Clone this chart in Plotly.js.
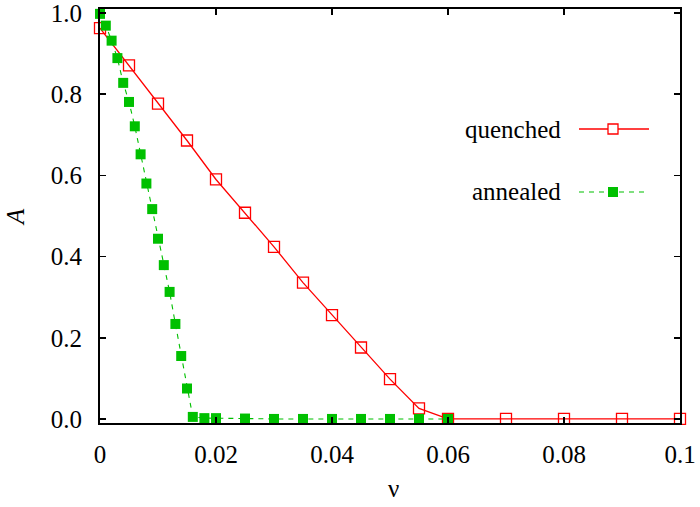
<!DOCTYPE html>
<html>
<head>
<meta charset="utf-8">
<script src="https://cdn.plot.ly/plotly-3.0.1.min.js"></script>
<style>
html,body{margin:0;padding:0;background:#fff;}
#chart .xtick text, #chart .ytick text { font-family: 'Liberation Serif', serif !important; }
</style>
</head>
<body>
<div id="chart" style="width:700px;height:507px;"></div>
<script>
// quenched series
const quenchedNu = [0, 0.005, 0.01, 0.015, 0.02, 0.025, 0.03, 0.035, 0.04, 0.045, 0.05, 0.055, 0.06, 0.07, 0.08, 0.09, 0.1];
const quenchedA  = [0.963, 0.871, 0.777, 0.686, 0.590, 0.508, 0.424, 0.336, 0.256, 0.176, 0.098, 0.026, 0.0, 0.0, 0.0, 0.0, 0.0];
// annealed series
const annealedNu = [0, 0.001, 0.002, 0.003, 0.004, 0.005, 0.006, 0.007, 0.008, 0.009, 0.010, 0.011, 0.012, 0.013, 0.014, 0.015, 0.016, 0.018, 0.020, 0.025, 0.030, 0.035, 0.040, 0.045, 0.050, 0.055, 0.060];
const annealedA  = [0.998, 0.969, 0.932, 0.889, 0.828, 0.781, 0.721, 0.652, 0.580, 0.517, 0.444, 0.379, 0.313, 0.234, 0.155, 0.075, 0.005, 0.002, 0.002, 0.001, 0.0, 0.0, 0.0, 0.0, 0.0, 0.0, 0.0];
// tick labels
const xTickVals = [0, 0.02, 0.04, 0.06, 0.08, 0.1];
const xTickText = ['0', '0.02', '0.04', '0.06', '0.08', '0.1'];
const yTickVals = [0, 0.2, 0.4, 0.6, 0.8, 1.0];
const yTickText = ['0.0', '0.2', '0.4', '0.6', '0.8', '1.0'];
const seriesNames = ['quenched', 'annealed'];

const RED = '#ff0000';
const GREEN = '#00c000';
const FONT = 'Liberation Serif';

const traces = [
  {
    x: quenchedNu, y: quenchedA, name: seriesNames[0], type: 'scatter', mode: 'lines+markers',
    line: {color: RED, width: 1.3},
    marker: {symbol: 'square-open', size: 11, color: RED, line: {color: RED, width: 1.3}},
    cliponaxis: false
  },
  {
    x: annealedNu, y: annealedA, name: seriesNames[1], type: 'scatter', mode: 'lines+markers',
    line: {color: GREEN, width: 1.1, dash: '5px,5px'},
    marker: {symbol: 'square', size: 10, color: GREEN},
    cliponaxis: false
  }
];

// plot area: left 100, right 680, top 9, bottom 423 (px)
const L = 100, R = 680, T = 9, B = 423;
const px2x = p => (p - L) / (R - L);
const px2y = p => (B - p) / (B - T);

const legRows = [129, 192];
const legColors = [RED, GREEN];
const shapes = [];
const annotations = [];
legRows.forEach((py, i) => {
  shapes.push({type: 'line', xref: 'paper', yref: 'paper', x0: px2x(579), x1: px2x(649), y0: px2y(py), y1: px2y(py),
    line: {color: legColors[i], width: i === 0 ? 1.3 : 1.1, dash: i === 0 ? 'solid' : '5px,5px'}});
  shapes.push({type: 'rect', xref: 'paper', yref: 'paper', xsizemode: 'pixel', ysizemode: 'pixel',
    xanchor: px2x(613), yanchor: px2y(py), x0: -5, x1: 5, y0: -5, y1: 5,
    fillcolor: i === 0 ? '#ffffff' : GREEN, line: {color: legColors[i], width: i === 0 ? 1.3 : 0}});
  annotations.push({xref: 'paper', yref: 'paper', x: px2x(563), y: px2y(py), xanchor: 'right', yanchor: 'middle',
    text: seriesNames[i], showarrow: false, font: {family: FONT, size: 25, color: '#000'}});
});
// axis titles
annotations.push({xref: 'paper', yref: 'paper', x: px2x(15), y: px2y(217), xanchor: 'center', yanchor: 'middle',
  text: '<i>A</i>', textangle: -90, showarrow: false, font: {family: FONT, size: 25, color: '#000'}});
annotations.push({xref: 'paper', yref: 'paper', x: px2x(393), y: px2y(488), xanchor: 'center', yanchor: 'middle',
  text: 'ν', showarrow: false, font: {family: FONT, size: 25, color: '#000'}});

const layout = {
  width: 700, height: 507,
  margin: {l: L, r: 700 - R, t: T, b: 507 - B, pad: 0},
  paper_bgcolor: '#fff', plot_bgcolor: '#fff',
  showlegend: false,
  font: {family: FONT, size: 25, color: '#000'},
  xaxis: {
    range: [0, 0.1], tickvals: xTickVals, ticktext: xTickText,
    ticks: 'inside', ticklen: 6, tickwidth: 1.5, tickcolor: '#000',
    showline: true, linecolor: '#000', linewidth: 2, mirror: 'ticks',
    showgrid: false, zeroline: false, ticklabelstandoff: 8, ticklabeloverflow: 'allow',
    tickfont: {family: FONT, size: 25, color: '#000'}
  },
  yaxis: {
    range: [-0.01, 1.01], tickvals: yTickVals, ticktext: yTickText,
    ticks: 'inside', ticklen: 6, tickwidth: 1.5, tickcolor: '#000',
    showline: true, linecolor: '#000', linewidth: 2, mirror: 'ticks',
    showgrid: false, zeroline: false, ticklabelstandoff: 11, ticklabeloverflow: 'allow',
    tickfont: {family: FONT, size: 25, color: '#000'}
  },
  shapes: shapes,
  annotations: annotations
};

Plotly.newPlot('chart', traces, layout, {staticPlot: true, displayModeBar: false});
</script>
</body>
</html>
